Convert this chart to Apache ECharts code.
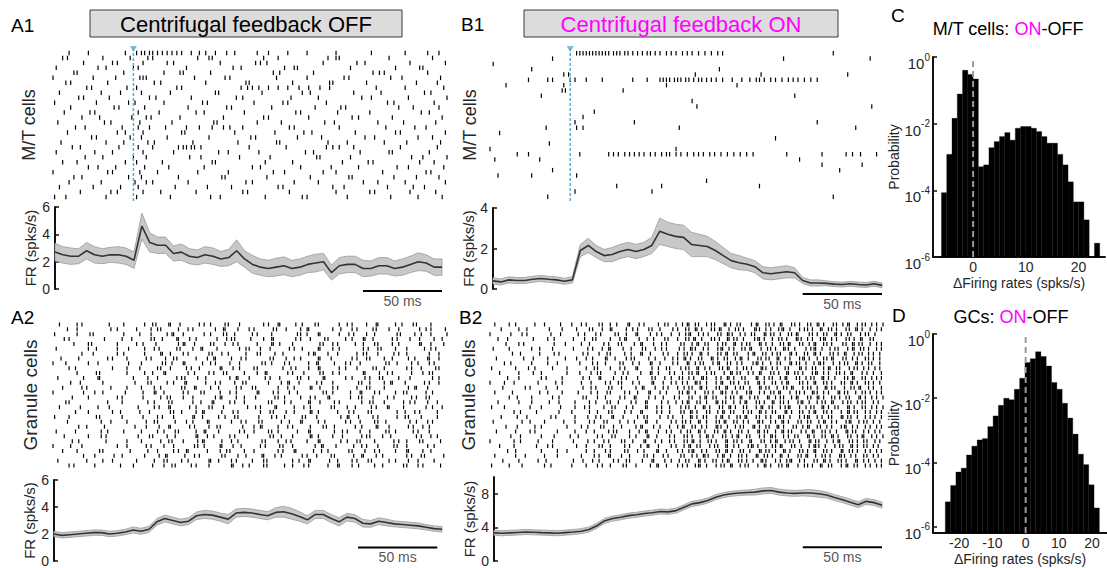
<!DOCTYPE html>
<html>
<head>
<meta charset="utf-8">
<title>Centrifugal feedback</title>
<script src="https://cdn.jsdelivr.net/npm/echarts@6.0.0/dist/echarts.min.js"></script>
<style>
html,body{margin:0;padding:0;background:#ffffff;}
#chart{width:1107px;height:568px;}
</style>
</head>
<body>
<div id="chart"></div>
<script>
// ================= DATA =================
// time grid of the firing-rate traces (ms from start of window; stimulus at 50 ms)
const T_MS = [0,5,10,15,20,25,30,35,40,45,50,55,60,65,70,75,80,85,90,95,100,105,110,115,120,125,130,135,140,145,150,155,160,165,170,175,180,185,190,195,200,205,210,215,220,225,230,235,240,245];
const STIM_MS = 50;

// firing rate means (spks/s) and half-widths of the shaded band
const FR_A1 = [2.7,2.5,2.4,2.4,2.8,2.5,2.4,2.5,2.5,2.4,2.1,4.6,3.4,3.2,3.2,2.6,2.7,2.4,2.3,2.5,2.4,2.2,2.3,2.8,2.2,1.8,1.6,1.5,1.6,1.7,1.5,1.6,1.8,1.9,2.0,1.2,1.7,1.8,1.8,1.5,1.5,1.7,1.7,1.5,1.6,1.8,2.0,1.9,1.6,1.6];
const SEM_A1 = [0.65,0.6,0.6,0.55,0.6,0.6,0.55,0.55,0.6,0.6,0.6,0.95,0.7,0.6,0.6,0.55,0.6,0.55,0.55,0.6,0.6,0.55,0.6,0.8,0.6,0.65,0.6,0.6,0.65,0.65,0.6,0.6,0.6,0.65,0.6,0.55,0.6,0.6,0.6,0.6,0.55,0.6,0.6,0.55,0.6,0.6,0.65,0.6,0.6,0.6];
const FR_A2 = [2.0,1.9,1.95,2.0,2.05,2.1,2.1,2.0,2.05,2.15,2.3,2.2,2.35,2.9,3.15,3.0,2.85,2.95,3.35,3.45,3.4,3.25,3.1,3.55,3.6,3.55,3.45,3.35,3.6,3.65,3.5,3.3,3.05,3.45,3.45,3.15,2.9,3.25,3.15,2.8,2.75,2.95,2.85,2.75,2.7,2.65,2.6,2.5,2.4,2.35];
const SEM_A2 = [0.2,0.2,0.2,0.2,0.2,0.2,0.2,0.2,0.2,0.2,0.22,0.22,0.22,0.25,0.25,0.25,0.25,0.25,0.28,0.3,0.3,0.3,0.35,0.3,0.3,0.3,0.3,0.3,0.35,0.4,0.4,0.35,0.3,0.3,0.3,0.3,0.3,0.28,0.28,0.28,0.25,0.25,0.25,0.22,0.22,0.22,0.22,0.2,0.2,0.2];
const FR_B1 = [0.4,0.35,0.45,0.42,0.42,0.48,0.52,0.48,0.45,0.38,0.45,1.9,2.15,1.85,1.65,1.7,1.85,1.95,1.85,1.95,2.15,2.85,2.7,2.6,2.55,2.2,2.15,2.1,1.9,1.65,1.4,1.3,1.22,1.1,0.8,0.75,0.8,0.85,0.8,0.42,0.3,0.3,0.28,0.24,0.22,0.26,0.22,0.2,0.26,0.18];
const SEM_B1 = [0.15,0.15,0.15,0.15,0.15,0.15,0.15,0.15,0.15,0.15,0.15,0.3,0.35,0.3,0.3,0.35,0.35,0.35,0.35,0.35,0.4,0.65,0.6,0.6,0.6,0.6,0.55,0.5,0.45,0.4,0.35,0.35,0.3,0.3,0.3,0.3,0.3,0.3,0.25,0.15,0.15,0.15,0.12,0.12,0.12,0.12,0.12,0.12,0.12,0.12];
const FR_B2 = [3.35,3.3,3.35,3.4,3.45,3.42,3.38,3.35,3.3,3.38,3.45,3.55,3.75,4.2,4.8,5.05,5.2,5.4,5.5,5.65,5.75,5.9,5.85,6.0,6.4,6.8,6.95,7.2,7.6,7.85,8.0,8.1,8.15,8.2,8.35,8.4,8.2,8.1,8.05,8.1,8.1,8.0,7.85,7.55,7.3,7.0,6.7,7.1,6.95,6.65];
const SEM_B2 = [0.3,0.3,0.3,0.3,0.3,0.3,0.3,0.3,0.3,0.3,0.3,0.3,0.3,0.3,0.3,0.3,0.3,0.3,0.3,0.3,0.3,0.3,0.3,0.3,0.3,0.3,0.3,0.3,0.3,0.3,0.3,0.3,0.3,0.35,0.35,0.35,0.35,0.35,0.35,0.35,0.4,0.4,0.35,0.35,0.35,0.35,0.35,0.35,0.35,0.35];

// spike rasters: one string per cell (row), spike times in ms
const RASTER_A1 = [
"10 22 45 52 55 57 60 62 65 68 71 74 77 80 86 91 95 101 108 113 127 134 146 158 176 198 219 233 240",
"6 9 31 48 59 62 90 97 99 131 140 171 176 178 209 236",
"19 37 40 56 71 75 104 126 129 133 168 189 194 222 244",
"2 28 33 50 53 83 112 117 144 150 152 185 213 228 230",
"13 15 44 69 79 81 98 137 141 162 199 203 206 233",
"0 25 39 54 56 58 88 107 110 139 158 181 184 210 217 241",
"8 11 34 63 67 95 120 122 149 172 174 195 226 239",
"21 24 46 52 77 80 117 121 124 128 134 140 146 153 159 166 172 201 219 243",
"4 30 42 55 73 101 103 130 155 160 187 204 231 235",
"16 19 35 60 64 86 114 118 148 165 192 198 221 245",
"1 27 47 51 69 93 96 125 143 146 170 208 212 237",
"11 38 41 57 84 108 111 136 163 179 182 215 224 240",
"7 23 26 53 66 89 94 119 151 154 177 197 229 234",
"18 29 49 58 61 79 106 131 134 159 186 190 211 242",
"3 32 36 54 74 100 102 127 142 169 175 202 218 238",
"14 20 43 53 60 70 83 91 99 106 110 118 147 150 178 207 225 232",
"9 40 45 56 80 82 113 138 156 161 188 213 216 244",
"24 27 48 55 71 97 123 126 152 167 194 200 227 236",
"5 33 44 59 63 87 115 139 141 171 183 206 220 241",
"12 17 41 53 62 78 81 83 86 88 92 122 145 170 174 178 187 216 239",
"2 26 37 56 75 103 109 128 157 162 191 209 211 234",
"20 31 50 58 85 92 116 135 164 166 185 223 230 245",
"6 15 45 52 68 99 101 132 149 180 196 199 228 237",
"22 28 39 57 72 94 124 129 154 173 190 214 221 243",
"0 34 37 54 65 90 109 137 144 168 176 205 232 235",
"13 18 47 55 78 105 107 133 160 184 186 212 226 240",
"10 30 51 58 62 84 120 124 150 165 193 202 219 244",
"4 25 42 53 76 96 111 140 143 174 181 208 224 231",
"17 36 40 56 67 89 118 121 147 176 197 200 222 238",
"1 8 33 52 73 98 104 132 155 158 183 210 227 242"
];
const RASTER_B1 = [
"54 56 58 60 62 64 66 68 70 72 74 77 79 81 84 86 89 92 95 98 100 103 106 110 113 116 120 123 126 130 134 138 142 145 214",
"39 183 237",
"2",
"26 143",
"46 49 128 169 223",
"24 36 39 50 53 60 70 89 98 106 108 110 112 115 117 119 122 124 127 130 132 135 138 141 145 151 157 162 166 168 171 175 178 182 186 189 192 196 200 204",
"10 46 110 154",
"45 47 83",
"32 190",
"126",
"129 238",
"65",
"58",
"53 90 204",
"35 54 58 118 228",
"6",
"178",
"37",
"0 116",
"17 24 56 74 77 80 84 87 90 93 96 100 103 107 110 112 116 119 123 127 130 133 137 140 144 148 152 156 160 164 185 207 222 226 231 241",
"3 31 193",
"207 232",
"39 218",
"5 26 54",
"135",
"79 107 168",
"53 101",
"36 214"
];
const RASTER_A2 = [
"4 15 18 35 44 57 62 64 72 73 79 91 94 98 107 109 116 131 134 140 141 151 155 163 165 178 183 186 195 201 202 213 217 224 226 235",
"9 15 36 40 52 61 65 67 78 84 87 101 106 107 115 122 125 137 139 145 154 158 159 174 179 186 189 199 201 209 215 228 232 235 244",
"1 15 23 25 44 54 61 71 74 75 81 94 98 106 108 113 124 127 136 152 154 158 165 166 178 184 187 195 200 214 216 225 229 235 245",
"7 10 32 43 49 61 63 68 77 78 85 89 102 108 111 113 123 131 136 137 151 154 160 169 171 182 186 193 194 199 211 214 222 228 237 242",
"13 22 24 40 52 56 64 78 81 82 88 98 100 107 112 115 127 136 137 141 149 166 168 174 177 188 193 200 202 211 215 228 229 235 243",
"2 22 27 40 47 57 63 66 77 79 87 92 93 102 116 120 122 129 135 147 150 155 165 166 174 178 193 196 202 204 213 220 231 235 238",
"18 25 40 44 57 67 68 73 81 84 97 99 105 109 120 127 129 138 143 159 162 163 171 177 189 193 195 202 212 215 220 234 240",
"5 16 34 37 46 58 61 70 75 77 89 96 100 101 111 117 120 135 137 145 150 154 165 166 173 186 189 195 197 206 211 221 225 233 234 240",
"0 8 22 28 47 55 68 70 74 81 82 93 98 101 110 116 130 132 136 144 147 159 164 165 175 182 185 191 207 209 214 223 227 234 237",
"10 14 37 46 54 65 67 73 83 86 91 104 105 112 116 125 127 143 148 151 159 165 166 178 182 189 199 201 206 220 223 229 238 240",
"15 27 29 46 57 62 69 70 84 88 97 100 106 108 119 127 132 133 146 149 156 166 168 174 178 193 194 203 208 211 223 230 234 236",
"3 19 28 29 50 59 65 77 80 82 90 95 110 114 115 122 132 135 141 152 154 159 168 169 182 186 194 197 203 205 215 222 236 240",
"11 17 31 51 59 61 71 75 82 83 95 101 104 113 118 120 134 142 146 147 153 164 167 174 190 192 197 206 210 211 219 231 234 240",
"6 18 21 36 46 55 63 67 80 82 88 89 98 103 114 117 124 126 140 146 150 160 161 166 174 177 189 195 197 206 221 225 226 233",
"0 19 26 31 45 56 63 64 69 81 84 92 94 104 110 114 127 128 137 140 147 152 168 170 174 185 191 192 200 203 213 218 220 232 236",
"12 22 40 43 56 67 71 73 81 87 101 104 105 114 119 126 138 140 144 154 160 163 171 172 185 190 192 199 208 212 223 226 232 234",
"8 10 34 43 59 63 72 74 87 92 99 100 110 113 119 134 136 144 148 159 160 166 175 178 192 197 199 206 218 222 225 233 239",
"4 17 28 35 53 63 66 72 73 85 89 97 99 106 121 126 129 138 139 150 156 160 173 175 183 188 198 201 208 209 218 232 236 242",
"14 22 37 42 54 60 73 75 80 89 93 94 105 112 115 129 135 137 145 150 160 161 165 177 184 187 196 198 214 219 225 228 239",
"1 10 27 29 43 56 65 68 75 87 88 93 103 107 113 115 128 136 139 144 155 157 164 179 183 184 190 199 202 214 219 221 229 239",
"9 30 36 46 58 63 65 76 83 87 96 97 111 117 120 128 130 142 147 154 155 165 169 182 185 191 200 202 207 222 226 233 236",
"16 21 32 51 58 66 72 73 85 88 97 102 104 118 125 129 130 140 146 149 160 168 170 175 188 192 201 202 209 221 224 230 234",
"2 14 30 34 44 55 65 69 76 78 89 94 95 103 116 119 125 134 136 140 152 159 160 175 180 183 191 197 207 209 213 224 227 234",
"7 22 30 33 53 60 62 71 76 89 90 96 100 110 113 121 135 137 142 149 160 161 165 174 180 192 195 197 205 210 226 229 235 239",
"12 16 33 46 55 67 72 74 81 90 93 94 105 111 115 130 132 140 145 148 158 165 166 179 183 189 191 200 212 215 220 228 230 241",
"0 11 18 40 46 58 61 69 75 88 90 94 104 105 112 117 129 132 141 143 149 163 167 168 176 187 192 195 202 212 214 220 233 237",
"6 15 29 31 48 59 65 75 78 83 84 96 104 108 110 119 125 140 143 150 151 162 167 171 184 186 194 200 203 213 220 221 230 235",
"19 26 38 43 57 66 70 71 82 88 91 105 107 115 120 130 131 138 142 155 158 164 173 175 187 192 193 201 205 220 223 229 231 243",
"3 21 31 37 52 63 69 71 80 84 97 98 103 111 114 124 131 133 149 153 159 160 172 177 186 189 196 198 209 213 221 227 237",
"10 13 26 42 50 62 69 74 76 86 89 97 111 112 118 122 131 133 144 149 156 159 171 177 178 186 190 200 205 218 220 227 230 241"
];
const RASTER_B2 = [
"3 12 16 28 34 44 51 57 60 68 70 75 79 86 87 93 96 105 109 111 116 120 123 124 128 130 135 138 140 146 147 150 154 156 163 166 167 172 174 177 181 182 188 190 193 198 200 204 205 208 214 216 220 223 224 229 232 234 238 241 245",
"7 18 23 37 45 54 62 64 70 75 76 85 89 92 99 101 106 114 117 122 124 128 129 132 138 140 143 144 149 153 155 158 165 166 168 172 175 180 182 183 187 193 196 198 201 206 207 211 213 216 222 224 228 229 232 237 241 244",
"0 13 20 23 38 44 55 59 66 69 78 80 85 91 92 100 104 107 113 118 122 124 125 130 133 136 142 144 148 149 151 156 159 163 165 171 172 175 177 181 186 188 191 192 199 201 204 208 210 215 216 219 223 225 231 234 236 240",
"5 11 27 36 40 52 59 64 66 75 81 84 85 93 98 102 109 111 117 122 124 127 128 132 138 140 143 148 149 152 154 158 165 167 168 171 176 180 182 185 191 192 194 198 201 206 208 209 213 216 222 224 227 231 232 237 239",
"10 18 21 40 47 57 62 71 74 80 82 90 94 95 102 107 110 119 121 126 129 130 134 136 142 145 147 152 153 157 160 162 168 169 172 176 181 183 186 187 193 195 199 202 203 208 210 213 220 222 226 227 230 232 237 241 244",
"2 12 26 31 39 52 61 64 70 74 75 83 88 95 97 103 107 110 118 121 125 126 128 133 136 142 144 145 149 152 157 159 162 163 169 173 175 178 183 184 186 190 197 200 202 203 207 212 215 217 223 226 227 231 233 236 241 244",
"14 19 31 40 43 58 61 68 73 75 84 88 94 95 100 108 111 117 121 123 126 131 132 136 142 144 147 148 152 154 161 164 165 170 172 176 179 181 187 188 191 196 198 202 203 206 212 214 217 221 222 227 230 232 236 239 243",
"4 21 27 36 47 54 60 64 72 73 78 85 88 90 99 103 109 114 117 121 122 125 130 132 138 139 142 146 148 153 156 157 161 167 169 172 174 179 180 184 187 193 195 196 199 204 208 210 213 214 220 222 226 229 234 236 239 243",
"9 13 26 36 42 56 64 67 72 81 83 89 93 100 101 106 114 117 123 124 128 131 133 139 142 143 148 150 154 157 164 166 167 170 175 179 181 187 188 191 193 197 202 205 206 208 214 218 221 223 228 229 232 236 238 243",
"1 16 24 28 39 48 60 65 67 75 81 84 91 92 101 105 110 112 119 122 124 129 130 134 137 143 145 148 149 154 158 160 163 169 170 172 176 179 184 186 193 194 197 201 203 208 211 212 216 218 224 227 229 233 236 240 243",
"6 18 27 32 48 56 63 67 69 78 83 86 94 100 101 105 112 115 120 124 126 129 130 135 138 140 146 150 151 154 156 161 164 168 169 175 177 180 185 186 190 192 195 201 203 204 208 211 216 218 221 225 226 232 235 239 244",
"11 18 32 35 45 58 62 68 69 77 82 85 92 101 103 109 113 118 120 124 127 132 133 135 141 144 148 149 152 157 159 166 167 171 174 176 181 184 185 191 193 197 200 202 207 208 211 215 221 223 226 227 232 234 238 241 244",
"0 9 15 30 41 45 57 63 72 75 80 82 89 93 101 102 108 113 116 120 123 128 129 131 135 141 144 145 150 152 155 159 161 167 168 171 176 178 182 185 186 193 195 198 202 203 208 210 213 219 221 225 226 229 234 236 239 243",
"8 22 25 35 42 58 63 66 74 76 82 91 95 96 103 108 111 117 121 124 126 131 132 135 141 143 147 148 153 156 158 162 168 169 172 174 179 183 185 188 189 195 198 200 204 209 210 213 215 221 225 227 230 231 236 239 244",
"3 14 31 36 45 55 63 67 73 75 84 87 92 99 100 106 110 118 120 123 124 128 134 136 139 144 145 147 151 154 160 162 163 168 171 175 177 180 181 187 191 193 196 201 202 204 208 211 217 218 221 223 228 232 234 237 241 244",
"12 17 26 39 43 58 60 67 72 81 84 90 91 99 103 108 115 118 124 126 131 134 135 139 141 147 150 152 156 157 162 165 167 173 174 178 181 183 188 191 192 198 200 204 205 208 213 215 218 222 224 230 231 234 238 241 245",
"5 18 26 37 43 53 62 66 73 75 80 88 91 97 98 107 111 116 120 123 124 129 131 135 141 142 145 147 152 156 159 160 166 168 171 176 177 181 183 186 192 194 195 199 204 207 209 213 214 220 223 225 229 232 234 239 242",
"1 9 25 32 44 53 59 62 71 76 78 85 89 97 98 104 107 112 119 122 124 128 133 134 137 143 145 149 150 153 158 160 166 169 170 174 176 181 184 186 187 193 197 200 202 207 208 211 215 217 223 224 227 232 234 238 241 245",
"15 19 29 43 51 62 67 74 76 84 88 94 95 104 107 112 119 121 125 126 129 135 137 142 145 146 150 152 158 161 163 168 169 172 176 178 184 185 188 193 195 199 202 203 208 210 213 219 223 224 227 229 234 237 241 244",
"7 17 23 38 41 53 61 66 69 76 77 83 92 96 98 106 111 114 120 125 126 129 133 135 141 144 145 149 154 156 159 160 166 168 172 175 180 181 183 187 193 196 198 199 204 207 211 213 219 220 223 225 229 234 237 240 244",
"2 20 25 34 46 53 62 65 71 73 81 86 90 97 98 104 113 116 120 122 125 130 131 135 141 143 146 147 152 154 158 161 167 168 170 175 178 182 183 186 192 194 198 200 205 208 209 213 216 222 224 225 230 233 235 239 243",
"10 17 28 32 48 57 61 69 71 77 82 91 94 95 102 106 112 117 120 121 126 128 132 135 141 142 144 148 153 156 158 164 165 168 172 174 179 180 183 189 191 195 198 199 204 206 210 213 219 221 222 226 229 234 237 241 244",
"4 16 25 28 42 53 60 65 74 77 79 87 93 97 98 105 110 113 119 123 125 130 131 134 140 142 146 147 150 155 157 161 167 168 171 173 178 182 183 186 188 194 197 201 202 207 209 212 216 222 223 226 228 233 236 240 243",
"13 19 32 40 50 55 67 70 76 78 87 91 98 99 104 112 115 121 123 126 131 135 136 139 145 147 151 154 155 160 162 168 171 175 176 178 183 186 190 192 198 199 202 207 209 213 214 217 223 225 229 232 233 238 241 245",
"0 15 19 30 39 52 61 65 71 74 82 84 89 96 97 103 107 112 115 121 123 126 127 131 136 138 141 147 148 152 154 157 162 163 169 171 175 178 179 184 187 189 193 199 200 203 205 210 214 217 218 224 226 229 233 235 240 243",
"6 15 29 36 39 54 60 68 70 75 84 87 94 98 99 105 113 116 121 124 125 129 131 137 140 142 147 148 152 155 161 163 164 167 172 176 178 181 182 188 190 194 199 202 203 205 209 215 218 220 225 226 229 233 235 239 242",
"11 16 32 42 48 60 65 72 75 84 86 92 96 104 105 110 117 120 124 126 127 132 135 141 143 147 148 151 156 158 162 168 169 172 174 178 183 184 187 193 195 198 202 203 208 210 213 219 220 224 226 229 234 237 241 244",
"3 16 22 34 42 57 65 68 74 75 82 87 96 98 102 108 111 119 121 126 129 133 134 136 142 145 146 150 155 157 160 166 167 171 173 176 181 182 186 192 194 197 198 203 207 209 212 218 219 221 225 228 233 235 239 242",
"8 18 30 35 52 58 64 68 77 80 85 87 95 101 102 109 113 118 122 124 130 131 134 139 141 145 148 149 155 157 160 164 169 170 172 178 181 185 187 188 193 196 202 204 208 209 212 217 219 222 228 229 233 236 240 244",
"1 12 20 34 38 51 60 67 70 75 83 85 91 100 104 105 110 117 120 123 128 130 131 135 141 144 146 150 151 156 159 161 167 171 172 175 180 182 185 186 192 196 198 201 206 207 211 213 219 222 223 227 229 234 237 241 244"
];

// histograms: bin edges (spks/s) and probabilities
const C_EDGES = [-6,-5,-4,-3,-2,-1,0,1,2,3,4,5,6,7,8,9,10,11,12,13,14,15,16,17,18,19,20,21,22,23,24];
const C_PROB = [8.5e-5,1.2e-3,0.0145,0.077,0.4,0.3,0.22,5.1e-4,5.8e-4,1.9e-3,2.9e-3,4.1e-3,5.4e-3,3.2e-3,7.3e-3,8.2e-3,8.2e-3,7.3e-3,5.8e-3,4.1e-3,2.6e-3,2.6e-3,1.2e-3,5.8e-4,1.8e-4,4.5e-5,4.5e-5,1.3e-5,0,2.6e-6];
const D_EDGES = [-24.2,-22.6,-21.0,-19.4,-17.8,-16.2,-14.6,-13.0,-11.4,-9.8,-8.2,-6.6,-5.0,-3.4,-1.8,-0.2,1.4,3.0,4.6,6.2,7.8,9.4,11.0,12.6,14.2,15.8,17.4,19.0,20.6,22.2];
const D_PROB = [5.9e-6,1.9e-5,5.0e-5,6.6e-5,1.7e-4,3.2e-4,5.0e-4,5.5e-4,1.3e-3,2.8e-3,6.0e-3,1.0e-2,8.9e-3,1.9e-2,4.2e-2,0.13,0.17,0.28,0.2,0.1,0.031,0.019,6.9e-3,2.4e-3,7.6e-4,1.8e-4,8.5e-5,2.0e-5,3.8e-6];

// tick labels
const FR_TICKS_6 = [0,2,4,6];
const FR_TICKS_4 = [0,2,4];
const FR_TICKS_B2 = [0,4,8];
const C_XTICKS = [0,10,20];
const D_XTICKS = [-20,-10,0,10,20];
const LOG_TICKS = [1e-6,1e-4,1e-2,1];

// texts
const TITLE_OFF = 'Centrifugal feedback OFF';
const TITLE_ON = 'Centrifugal feedback ON';
const FR_LABEL = 'FR (spks/s)';
const SCALE_TEXT = '50 ms';

// ================= CHART =================
const FONT = '"Liberation Sans", Arial, Helvetica, sans-serif';
const INK = '#262626';
const AX = '#111111';
const STIM_COLOR = '#5aaccc';

const chart = echarts.init(document.getElementById('chart'), null, {renderer: 'svg', width: 1107, height: 568});

const gridBoxes = [
  {left: 53, top: 48, width: 394, height: 154},   // 0 A1 raster
  {left: 55, top: 207, width: 387, height: 82},   // 1 A1 FR
  {left: 53, top: 322, width: 394, height: 146},  // 2 A2 raster
  {left: 54, top: 480, width: 388, height: 81},   // 3 A2 FR
  {left: 490, top: 48, width: 393, height: 154},  // 4 B1 raster
  {left: 493, top: 208, width: 389, height: 81},  // 5 B1 FR
  {left: 490, top: 322, width: 393, height: 146}, // 6 B2 raster
  {left: 494, top: 477, width: 388, height: 84},  // 7 B2 FR
  {left: 933, top: 57, width: 172, height: 200},  // 8 C
  {left: 933, top: 334, width: 174, height: 199}  // 9 D
];
const grids = gridBoxes.map(g => Object.assign({containLabel: false, outerBoundsMode: 'none'}, g));

function timeX(g) {
  return {gridIndex: g, type: 'value', min: 0, max: 245, show: false};
}
function rasterY(g, n, name, gap, fs) {
  return {gridIndex: g, type: 'value', min: -1, max: n, inverse: true,
    axisLine: {show: false}, axisTick: {show: false}, axisLabel: {show: false}, splitLine: {show: false},
    name: name, nameLocation: 'middle', nameRotate: 90, nameGap: gap,
    nameTextStyle: {fontSize: fs, color: INK, fontFamily: FONT}};
}
function rasterY2(g, n, name, gap, fs) {
  const a = rasterY(g, n, name, gap, fs);
  a.min = -0.5; a.max = n - 0.5;
  return a;
}
function frY(g, max, ticks, interval, gap) {
  return {gridIndex: g, type: 'value', min: 0, max: max, interval: interval,
    axisLine: {show: true, onZero: false, lineStyle: {color: AX, width: 2}},
    axisTick: {show: true, inside: true, length: 4, customValues: ticks, lineStyle: {color: AX, width: 1.5}},
    axisLabel: {show: true, customValues: ticks, fontSize: 14, color: INK, fontFamily: FONT, margin: 5},
    splitLine: {show: false},
    name: FR_LABEL, nameLocation: 'middle', nameRotate: 90, nameGap: gap,
    nameTextStyle: {fontSize: 15, color: INK, fontFamily: FONT}};
}
const expRich = {
  b: {fontSize: 15, color: INK, fontFamily: FONT, lineHeight: 18, verticalAlign: 'bottom'},
  e: {fontSize: 10, color: INK, fontFamily: FONT, lineHeight: 28, verticalAlign: 'middle'}
};
function expLabel(v) {
  const e = Math.round(Math.log10(v));
  return '{b|10}{e|' + e + '}';
}
function histX(g, min, max, ticks, gap) {
  return {gridIndex: g, type: 'value', min: min, max: max,
    axisLine: {show: true, onZero: false, lineStyle: {color: AX, width: 2}},
    axisTick: {show: true, inside: true, length: 4, customValues: ticks, lineStyle: {color: AX, width: 1.5}},
    axisLabel: {show: true, customValues: ticks, fontSize: 14, lineHeight: 14, color: INK, fontFamily: FONT, margin: 3},
    splitLine: {show: false},
    name: '\u0394Firing rates (spks/s)', nameLocation: 'middle', nameGap: gap, nameMoveOverlap: false,
    nameTextStyle: {fontSize: 14, lineHeight: 14, color: INK, fontFamily: FONT}};
}
function histY(g, min) {
  return {gridIndex: g, type: 'log', logBase: 10, min: min, max: 1,
    axisLine: {show: true, onZero: false, lineStyle: {color: AX, width: 2}},
    axisTick: {show: true, inside: true, length: 4, customValues: LOG_TICKS, lineStyle: {color: AX, width: 1.5}},
    axisLabel: {show: true, customValues: LOG_TICKS, formatter: expLabel, rich: expRich, margin: 3},
    splitLine: {show: false}, minorTick: {show: false},
    name: 'Probability', nameLocation: 'middle', nameRotate: 90, nameGap: 26,
    nameTextStyle: {fontSize: 14, color: INK, fontFamily: FONT}};
}

const xAxes = [timeX(0), timeX(1), timeX(2), timeX(3), timeX(4), timeX(5), timeX(6), timeX(7),
  histX(8, -7.6, 25, C_XTICKS, 19), histX(9, -27.9, 24.5, D_XTICKS, 19)];
const yAxes = [
  rasterY(0, RASTER_A1.length, 'M/T cells', 15, 18),
  frY(1, 6, FR_TICKS_6, 2, 14),
  rasterY2(2, RASTER_A2.length, 'Granule cells', 13, 19),
  frY(3, 6, FR_TICKS_6, 2, 14),
  rasterY(4, RASTER_B1.length, 'M/T cells', 11, 18),
  frY(5, 4, FR_TICKS_4, 2, 11),
  rasterY2(6, RASTER_B2.length, 'Granule cells', 12, 19),
  frY(7, 10, FR_TICKS_B2, 4, 11),
  histY(8, 1e-6),
  histY(9, 6.3e-7)
];

function parseRaster(rows) {
  const pts = [];
  rows.forEach((row, i) => {
    row.split(' ').forEach(s => { if (s !== '') pts.push([Number(s), i]); });
  });
  return pts;
}
function rasterSeries(g, rows, h) {
  return {type: 'scatter', xAxisIndex: g, yAxisIndex: g, data: parseRaster(rows),
    symbol: 'rect', symbolSize: [1.2, h], itemStyle: {color: '#000', opacity: 1},
    silent: true, large: false, progressive: 0, animation: false, z: 2};
}
function stimSeries(g, n) {
  return [
    {type: 'line', xAxisIndex: g, yAxisIndex: g, data: [[STIM_MS, -1], [STIM_MS, n]], symbol: 'none',
      lineStyle: {color: STIM_COLOR, width: 1.5, type: [3, 2]}, silent: true, z: 3, clip: false},
    {type: 'scatter', xAxisIndex: g, yAxisIndex: g, data: [[STIM_MS, -1]], symbol: 'triangle', symbolRotate: 180,
      symbolSize: [7, 6], symbolOffset: [0, 1], itemStyle: {color: STIM_COLOR}, silent: true, z: 4, clip: false}
  ];
}
function frSeries(g, mean, sem) {
  return [
    {type: 'custom', xAxisIndex: g, yAxisIndex: g, silent: true, z: 1, clip: false,
      data: [[T_MS[0], mean[0]]],
      renderItem: (params, api) => {
        const up = T_MS.map((t, i) => api.coord([t, mean[i] + sem[i]]));
        const lo = T_MS.map((t, i) => api.coord([t, mean[i] - sem[i]])).reverse();
        return {type: 'polygon', shape: {points: up.concat(lo)},
          style: {fill: '#c8c8c8', stroke: '#999999', lineWidth: 0.8}};
      }},
    {type: 'line', xAxisIndex: g, yAxisIndex: g, data: T_MS.map((t, i) => [t, mean[i]]), symbol: 'none',
      lineStyle: {color: '#333333', width: 1.6}, silent: true, z: 3}
  ];
}
function scaleBar(g, t0, t1, y) {
  return [
    {type: 'line', xAxisIndex: g, yAxisIndex: g, data: [[t0, y], [t1, y]], symbol: 'none',
      lineStyle: {color: '#000', width: 2}, silent: true, clip: false, z: 5},
    {type: 'scatter', xAxisIndex: g, yAxisIndex: g, data: [[(t0 + t1) / 2, y]], symbolSize: 1,
      itemStyle: {color: 'rgba(0,0,0,0)'}, silent: true, clip: false, z: 5,
      label: {show: true, position: 'bottom', distance: 2, formatter: SCALE_TEXT, fontSize: 14, color: INK, fontFamily: FONT}}
  ];
}
function histSeries(g, edges, prob, ymin) {
  const data = [];
  prob.forEach((p, i) => { if (p > 0) data.push([edges[i], edges[i + 1], p]); });
  return {type: 'custom', xAxisIndex: g, yAxisIndex: g, silent: true, z: 2, data: data,
    encode: {x: [0, 1], y: 2},
    renderItem: (params, api) => {
      const a = api.coord([api.value(0), api.value(2)]);
      const b = api.coord([api.value(1), ymin]);
      return {type: 'rect', shape: {x: a[0], y: a[1], width: b[0] - a[0], height: b[1] - a[1]},
        style: {fill: '#000', stroke: '#000', lineWidth: 0.3}};
    }};
}
function zeroLine(g, ymin) {
  return {type: 'line', xAxisIndex: g, yAxisIndex: g, data: [[0, ymin], [0, 1]], symbol: 'none',
    lineStyle: {color: '#9a9a9a', width: 2, type: [6, 4]}, silent: true, z: 4};
}

const series = [].concat(
  rasterSeries(0, RASTER_A1, 4.5), stimSeries(0, RASTER_A1.length),
  frSeries(1, FR_A1, SEM_A1), scaleBar(1, 195, 245, -0.15),
  rasterSeries(2, RASTER_A2, 4),
  frSeries(3, FR_A2, SEM_A2), scaleBar(3, 192, 242, 1.0),
  rasterSeries(4, RASTER_B1, 4.5), stimSeries(4, RASTER_B1.length),
  frSeries(5, FR_B1, SEM_B1), scaleBar(5, 195, 245, -0.25),
  rasterSeries(6, RASTER_B2, 4),
  frSeries(7, FR_B2, SEM_B2), scaleBar(7, 195, 245, 1.65),
  histSeries(8, C_EDGES, C_PROB, 1e-6), zeroLine(8, 1e-6),
  histSeries(9, D_EDGES, D_PROB, 6.3e-7), zeroLine(9, 6.3e-7)
);

function txt(x, y, text, size, color, align) {
  return {type: 'text', x: x, y: y, silent: true,
    style: {text: text, fontSize: size, fontFamily: FONT, fill: color || '#000', align: align || 'left', verticalAlign: 'middle'}};
}
const richTitle = (x, y, pre) => ({type: 'text', x: x, y: y, silent: true,
  style: {text: '{k|' + pre + '}{m|ON}{k|-OFF}', align: 'center', verticalAlign: 'middle',
    rich: {k: {fontSize: 18, fontFamily: FONT, fill: '#000', color: '#000'},
           m: {fontSize: 18, fontFamily: FONT, fill: '#ff00ff', color: '#ff00ff'}}}});

const graphic = [
  {type: 'rect', silent: true, shape: {x: 90, y: 10, width: 312, height: 27}, style: {fill: '#dcdcdc', stroke: '#3a3a3a', lineWidth: 1}},
  txt(246, 24, TITLE_OFF, 22, '#000', 'center'),
  {type: 'rect', silent: true, shape: {x: 524, y: 10, width: 314, height: 27}, style: {fill: '#dcdcdc', stroke: '#3a3a3a', lineWidth: 1}},
  txt(681, 24, TITLE_ON, 22, '#ff00ff', 'center'),
  txt(11, 25, 'A1', 19), txt(461, 24, 'B1', 19),
  txt(11, 317, 'A2', 19), txt(459, 317, 'B2', 19),
  txt(891, 15, 'C', 19), txt(892, 315, 'D', 19),
  richTitle(1008, 29, 'M/T cells: '),
  richTitle(1011, 317, 'GCs: ')
];

chart.setOption({
  animation: false,
  backgroundColor: '#ffffff',
  textStyle: {fontFamily: FONT},
  grid: grids,
  xAxis: xAxes,
  yAxis: yAxes,
  series: series,
  graphic: graphic
});
</script>
</body>
</html>
